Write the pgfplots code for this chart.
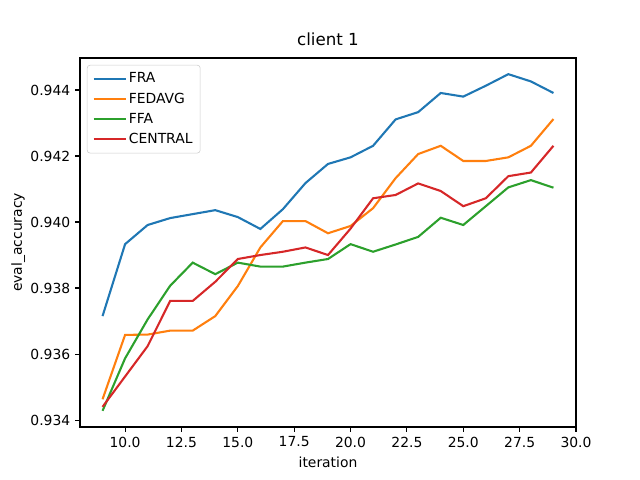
\documentclass[border=0pt]{standalone}
\usepackage{fontspec}
\setmainfont{DejaVu Sans}
\usepackage{pgfplots}
\pgfplotsset{compat=1.18}
\definecolor{c1}{HTML}{1F77B4}
\definecolor{c2}{HTML}{FF7F0E}
\definecolor{c3}{HTML}{2CA02C}
\definecolor{c4}{HTML}{D62728}
\begin{document}
\begin{tikzpicture}
\useasboundingbox (-57.6pt,-38.16pt) rectangle (403.2pt,307.44pt);
\begin{axis}[
  at={(0,0)}, anchor=south west,
  scale only axis, width=357.12pt, height=265.68pt,
  xmin=8, xmax=30, ymin=0.93379, ymax=0.94497,
  xtick={10,12.5,...,30},
  ytick={0.934,0.936,...,0.9445},
  xticklabel style={/pgf/number format/.cd,fixed,fixed zerofill,precision=1},
  yticklabel style={/pgf/number format/.cd,fixed,fixed zerofill,precision=3},
  /pgf/number format/assume math mode=true,
  scaled y ticks=false,
  tick align=outside, major tick length=3.5pt,
  xtick pos=bottom, ytick pos=left,
  tick style={black, line width=0.8pt},
  axis line style={line width=0.8pt},
  tick label style={font=\fontsize{10}{12}\selectfont},
  label style={font=\fontsize{10}{12}\selectfont},
  xlabel={iteration}, ylabel={eval\_accuracy},
  ylabel style={yshift=-3pt},
  title={client 1}, title style={font=\fontsize{12}{14}\selectfont, yshift=-1pt},
  legend style={at={(0,1)}, anchor=north west, xshift=5pt, yshift=-5pt,
    draw=black!20, rounded corners=2pt, fill=white, fill opacity=0.8, text opacity=1,
    font=\fontsize{10}{12}\selectfont, row sep=2.6pt, inner xsep=4pt, inner ysep=4pt,
    nodes={inner sep=1.5pt}},
  legend cell align=left,
  legend image code/.code={\draw[#1, line width=1.5pt] (0pt,0pt) -- (20pt,0pt); \path (0pt,0pt) -- (23pt,0pt);},
  every axis plot/.append style={line width=1.5pt},
]
\addplot[c1] coordinates {(9,0.93715) (10,0.93933) (11,0.93991) (12,0.94012) (13,0.94024) (14,0.94036) (15,0.94015) (16,0.93979) (17,0.94039) (18,0.94118) (19,0.94176) (20,0.94196) (21,0.94231) (22,0.94311) (23,0.94333) (24,0.94391) (25,0.94380) (26,0.94413) (27,0.94448) (28,0.94426) (29,0.94391)};
\addlegendentry{FRA}
\addplot[c2] coordinates {(9,0.93463) (10,0.93658) (11,0.93659) (12,0.93671) (13,0.93671) (14,0.93715) (15,0.93806) (16,0.93923) (17,0.94003) (18,0.94003) (19,0.93966) (20,0.93988) (21,0.94042) (22,0.94133) (23,0.94206) (24,0.94231) (25,0.94185) (26,0.94185) (27,0.94196) (28,0.94231) (29,0.94312)};
\addlegendentry{FEDAVG}
\addplot[c3] coordinates {(9,0.93428) (10,0.93587) (11,0.93705) (12,0.93807) (13,0.93877) (14,0.93842) (15,0.93877) (16,0.93865) (17,0.93865) (18,0.93877) (19,0.93888) (20,0.93933) (21,0.93910) (22,0.93932) (23,0.93955) (24,0.94013) (25,0.93991) (26,0.94048) (27,0.94105) (28,0.94127) (29,0.94104)};
\addlegendentry{FFA}
\addplot[c4] coordinates {(9,0.93440) (10,0.93532) (11,0.93624) (12,0.93761) (13,0.93761) (14,0.93819) (15,0.93888) (16,0.93900) (17,0.93910) (18,0.93923) (19,0.93900) (20,0.93980) (21,0.94072) (22,0.94082) (23,0.94117) (24,0.94094) (25,0.94048) (26,0.94072) (27,0.94139) (28,0.94150) (29,0.94231)};
\addlegendentry{CENTRAL}
\end{axis}
\end{tikzpicture}
\end{document}
